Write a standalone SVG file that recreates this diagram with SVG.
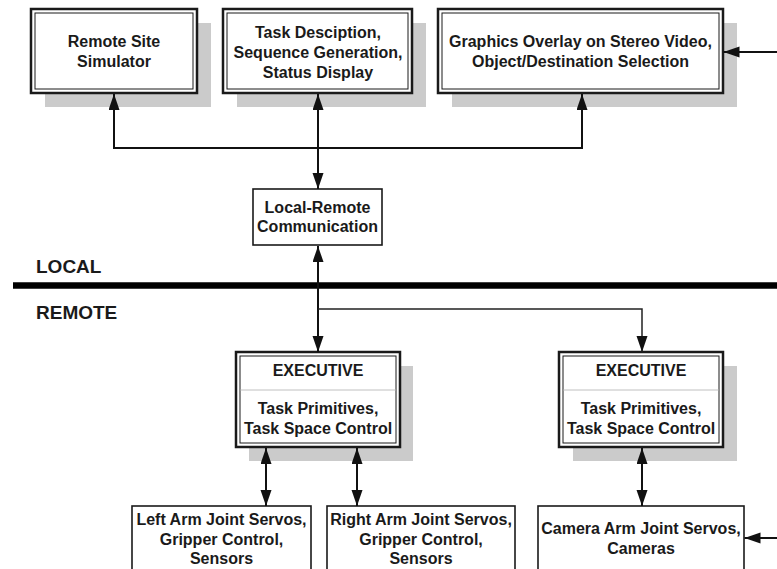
<svg xmlns="http://www.w3.org/2000/svg" width="777" height="569" viewBox="0 0 777 569">
  <style>
    text { font-family: "Liberation Sans", Arial, sans-serif; font-weight: bold; font-size: 16px; fill: #1a1a1a; text-anchor: middle; }
    .label { font-size: 19px; text-anchor: start; }
    .shadow { fill: #cbcbcb; }
    .outer { fill: #ffffff; stroke: #1a1a1a; stroke-width: 2.5; }
    .inner { fill: none; stroke: #1a1a1a; stroke-width: 1; }
    .single { fill: #ffffff; stroke: #1a1a1a; stroke-width: 1.6; }
    .divider { stroke: #c0c0c0; stroke-width: 1; }
    .wire { fill: none; stroke: #111111; stroke-width: 2; }
    .thin { fill: none; stroke: #222222; stroke-width: 1.5; }
  </style>
  <defs>
    <marker id="arrow" markerUnits="userSpaceOnUse" markerWidth="17" markerHeight="12" refX="16" refY="5.5" orient="auto-start-reverse">
      <path d="M0,0 L16,5.5 L0,11 Z" fill="#111111"/>
    </marker>
  </defs>

  <rect width="777" height="569" fill="#ffffff"/>

  <!-- site divider -->
  <line x1="13" y1="285.5" x2="777" y2="285.5" stroke="#000000" stroke-width="6.5"/>
  <text class="label" x="36" y="273">LOCAL</text>
  <text class="label" x="36" y="319">REMOTE</text>

  <!-- operator station -->
  <g id="simulator">
    <rect class="shadow" x="45" y="23" width="166" height="84"/>
    <rect class="outer" x="31" y="9" width="166" height="84"/>
    <rect class="inner" x="35" y="13" width="158" height="76"/>
    <text x="114" y="47">Remote Site</text>
    <text x="114" y="66.5">Simulator</text>
  </g>

  <g id="task-description">
    <rect class="shadow" x="237" y="23" width="189" height="84"/>
    <rect class="outer" x="223" y="9" width="189" height="84"/>
    <rect class="inner" x="227" y="13" width="181" height="76"/>
    <text x="318" y="37.5">Task Desciption,</text>
    <text x="318" y="57.5">Sequence Generation,</text>
    <text x="318" y="77.5">Status Display</text>
  </g>

  <g id="graphics-overlay">
    <rect class="shadow" x="452" y="23" width="285" height="84"/>
    <rect class="outer" x="438" y="9" width="285" height="84"/>
    <rect class="inner" x="442" y="13" width="277" height="76"/>
    <text x="580.5" y="47">Graphics Overlay on Stereo Video,</text>
    <text x="580.5" y="66.5">Object/Destination Selection</text>
  </g>

  <g id="local-remote">
    <rect class="single" x="253" y="189" width="129" height="56"/>
    <text x="317.5" y="213.3">Local-Remote</text>
    <text x="317.5" y="232.3">Communication</text>
  </g>

  <!-- remote site -->
  <g id="executive-arms">
    <rect class="shadow" x="249" y="366" width="164" height="95"/>
    <rect class="outer" x="236" y="352" width="164" height="95"/>
    <rect class="inner" x="240" y="356" width="156" height="87"/>
    <line class="divider" x1="240.5" y1="390" x2="395.5" y2="390"/>
    <text x="318" y="375.5">EXECUTIVE</text>
    <text x="318" y="414">Task Primitives,</text>
    <text x="318" y="434">Task Space Control</text>
  </g>

  <g id="executive-camera">
    <rect class="shadow" x="573" y="366" width="164" height="95"/>
    <rect class="outer" x="559" y="352" width="164" height="95"/>
    <rect class="inner" x="563" y="356" width="156" height="87"/>
    <line class="divider" x1="563.5" y1="390" x2="718.5" y2="390"/>
    <text x="641" y="375.5">EXECUTIVE</text>
    <text x="641" y="414">Task Primitives,</text>
    <text x="641" y="434">Task Space Control</text>
  </g>

  <g id="left-arm">
    <rect class="single" x="132" y="506" width="179" height="80"/>
    <text x="221.5" y="525">Left Arm Joint Servos,</text>
    <text x="221.5" y="544.5">Gripper Control,</text>
    <text x="221.5" y="563.5">Sensors</text>
  </g>

  <g id="right-arm">
    <rect class="single" x="327" y="506" width="188" height="80"/>
    <text x="421" y="525">Right Arm Joint Servos,</text>
    <text x="421" y="544.5">Gripper Control,</text>
    <text x="421" y="563.5">Sensors</text>
  </g>

  <g id="camera-arm">
    <rect class="single" x="538" y="506" width="206" height="80"/>
    <text x="641" y="534.3">Camera Arm Joint Servos,</text>
    <text x="641" y="554">Cameras</text>
  </g>

  <!-- connectors -->
  <g id="connectors">
    <polyline class="wire" points="114,94 114,148 582,148 582,94" marker-start="url(#arrow)" marker-end="url(#arrow)"/>
    <line class="wire" x1="318" y1="94" x2="318" y2="189" marker-start="url(#arrow)" marker-end="url(#arrow)"/>
    <line class="wire" x1="318" y1="246" x2="318" y2="352" marker-start="url(#arrow)" marker-end="url(#arrow)"/>
    <polyline class="thin" points="318,309 642,309 642,352" marker-end="url(#arrow)"/>
    <line class="wire" x1="777" y1="52" x2="723.5" y2="52" marker-end="url(#arrow)"/>
    <line class="wire" x1="266" y1="448" x2="266" y2="506" marker-start="url(#arrow)" marker-end="url(#arrow)"/>
    <line class="wire" x1="357" y1="448" x2="357" y2="506" marker-start="url(#arrow)" marker-end="url(#arrow)"/>
    <line class="wire" x1="642" y1="448" x2="642" y2="506" marker-start="url(#arrow)" marker-end="url(#arrow)"/>
    <line class="wire" x1="777" y1="538" x2="744.5" y2="538" marker-end="url(#arrow)"/>
  </g>
</svg>
